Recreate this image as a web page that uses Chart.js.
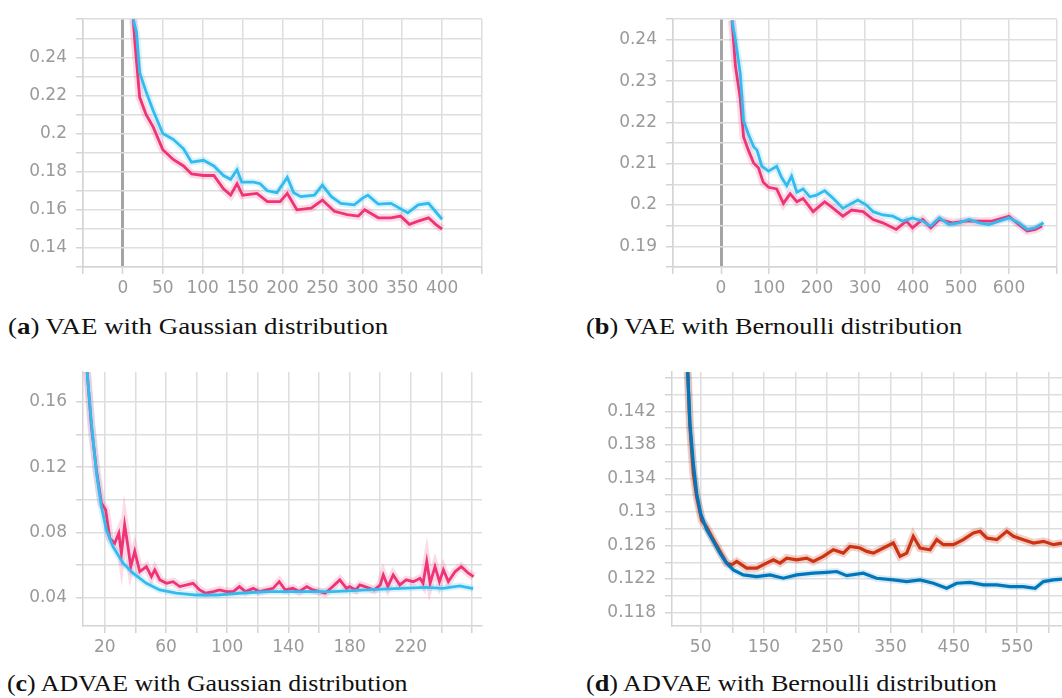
<!DOCTYPE html>
<html>
<head>
<meta charset="utf-8">
<script src="https://cdn.jsdelivr.net/npm/chart.js@4.4.1/dist/chart.umd.min.js"></script>
<style>
  html, body { margin: 0; padding: 0; background: #ffffff; }
  body { width: 1062px; height: 698px; position: relative; overflow: hidden; }
  canvas { position: absolute; }
  .cap {
    position: absolute;
    font-family: "Liberation Serif", "DejaVu Serif", serif;
    font-size: 24px;
    line-height: 24px;
    color: #111;
    white-space: nowrap;
    transform-origin: left top;
  }
  .cap b { font-weight: bold; }
</style>
</head>
<body>
<canvas id="chartA" width="500" height="300" style="left:0;top:0"></canvas>
<canvas id="chartB" width="482" height="300" style="left:580px;top:0"></canvas>
<canvas id="chartC" width="500" height="320" style="left:0;top:340px"></canvas>
<canvas id="chartD" width="482" height="320" style="left:580px;top:340px"></canvas>

<div class="cap" data-w="380" style="left:8px;top:314px">(<b>a</b>) VAE with Gaussian distribution</div>
<div class="cap" data-w="376" style="left:586px;top:314px">(<b>b</b>) VAE with Bernoulli distribution</div>
<div class="cap" data-w="401" style="left:7px;top:671px">(<b>c</b>) ADVAE with Gaussian distribution</div>
<div class="cap" data-w="411" style="left:586px;top:671px">(<b>d</b>) ADVAE with Bernoulli distribution</div>

<script>
// ---- (a) VAE with Gaussian distribution ----
const aBlueSteps = [13, 17, 21, 29, 38, 50, 63, 76, 86, 101, 114, 126, 135, 143, 149, 164, 172, 181, 193, 206, 214, 223, 240, 250, 261, 273, 290, 300, 307, 320, 336, 357, 370, 383, 392, 400];
const aBlueLoss = [0.26, 0.253, 0.232, 0.222, 0.212, 0.2, 0.197, 0.192, 0.185, 0.186, 0.183, 0.178, 0.176, 0.181, 0.1745, 0.1745, 0.1737, 0.17, 0.169, 0.177, 0.169, 0.1669, 0.1677, 0.173, 0.167, 0.1634, 0.1626, 0.166, 0.1677, 0.163, 0.1634, 0.1584, 0.1626, 0.1634, 0.159, 0.155];
const aRedSteps = [13, 15, 21, 29, 38, 50, 63, 76, 86, 101, 114, 126, 135, 143, 150, 168, 181, 197, 206, 218, 236, 250, 265, 281, 295, 303, 320, 336, 348, 359, 370, 383, 392, 400];
const aRedLoss = [0.26, 0.248, 0.219, 0.21, 0.2034, 0.1915, 0.1864, 0.183, 0.1788, 0.178, 0.178, 0.171, 0.1677, 0.1737, 0.1677, 0.1686, 0.1643, 0.1643, 0.1686, 0.16, 0.1609, 0.1651, 0.1592, 0.1575, 0.1567, 0.16, 0.1558, 0.1558, 0.1567, 0.1524, 0.1541, 0.1558, 0.1524, 0.1499];
const aXTicks = [-50, 0, 50, 100, 150, 200, 250, 300, 350, 400, 450];
const aXLabels = ["0", "50", "100", "150", "200", "250", "300", "350", "400"];
const aYTicks = [0.13, 0.14, 0.15, 0.16, 0.17, 0.18, 0.19, 0.2, 0.21, 0.22, 0.23, 0.24, 0.25, 0.26];
const aYLabels = ["0.14", "0.16", "0.18", "0.2", "0.22", "0.24"];

// ---- (b) VAE with Bernoulli distribution ----
const bBlueSteps = [23, 30, 40, 47, 57, 68, 75, 85, 99, 116, 126, 137, 147, 158, 171, 185, 199, 216, 234, 254, 272, 285, 303, 317, 337, 358, 379, 399, 420, 437, 455, 475, 496, 517, 538, 558, 579, 600, 620, 638, 655, 672];
const bBlueLoss = [0.2447, 0.24, 0.232, 0.2204, 0.2172, 0.2141, 0.2133, 0.2094, 0.2082, 0.2094, 0.2067, 0.2047, 0.207, 0.2031, 0.2039, 0.202, 0.2024, 0.2035, 0.2016, 0.1992, 0.2004, 0.2012, 0.2, 0.1984, 0.1976, 0.1973, 0.1961, 0.1969, 0.1961, 0.1949, 0.1969, 0.1953, 0.1957, 0.1965, 0.1957, 0.1953, 0.1961, 0.1969, 0.1957, 0.1941, 0.1945, 0.1957];
const bRedSteps = [23, 30, 40, 47, 57, 68, 78, 88, 99, 116, 130, 144, 158, 171, 192, 216, 234, 254, 272, 296, 317, 337, 365, 386, 399, 420, 437, 455, 482, 510, 538, 565, 600, 620, 638, 655, 669];
const bRedLoss = [0.2447, 0.2337, 0.2259, 0.2165, 0.2133, 0.2102, 0.209, 0.2055, 0.2043, 0.2039, 0.2004, 0.2027, 0.2008, 0.2016, 0.1984, 0.2008, 0.1992, 0.1973, 0.1988, 0.1984, 0.1965, 0.1957, 0.1941, 0.1961, 0.1945, 0.1965, 0.1945, 0.1965, 0.1957, 0.1961, 0.1961, 0.1961, 0.1973, 0.1953, 0.1937, 0.1941, 0.1949];
const bXTicks = [-100, 0, 100, 200, 300, 400, 500, 600, 700];
const bXLabels = ["0", "100", "200", "300", "400", "500", "600"];
const bYTicks = [0.185, 0.19, 0.195, 0.2, 0.205, 0.21, 0.215, 0.22, 0.225, 0.23, 0.235, 0.24, 0.245];
const bYLabels = ["0.19", "0.2", "0.21", "0.22", "0.23", "0.24"];

// ---- (c) ADVAE with Gaussian distribution ----
const cBlueSteps = [8.5, 11.3, 14.6, 17.8, 21.1, 25.4, 32, 38.5, 47.2, 56, 66.8, 80, 93, 108, 125.7, 147.5, 169, 191, 213, 230, 241, 252, 260.7];
const cBlueLoss = [0.1784, 0.147, 0.1164, 0.0959, 0.0816, 0.0713, 0.0611, 0.055, 0.0488, 0.0447, 0.0427, 0.0416, 0.0416, 0.0427, 0.0437, 0.0437, 0.0437, 0.0447, 0.0457, 0.0463, 0.0457, 0.0472, 0.0455];
const cRedSteps = [8.5, 11.3, 14.6, 17.8, 20.6, 23.3, 26.5, 29.2, 30.9, 33, 35.2, 37, 39.6, 42.9, 47.2, 50.5, 52.7, 56, 60.3, 64.7, 69, 77.7, 82, 86, 91, 95, 99.6, 104, 108, 112, 117, 121, 125.7, 130, 134, 138, 143, 147, 152, 156, 160.5, 164, 169, 173.6, 178, 180, 184, 186.7, 190, 193, 196, 200, 202, 205, 208.5, 212.8, 217, 221.6, 226, 228, 230.4, 232.6, 235.8, 238.7, 241.3, 244.5, 249, 253, 257.6, 261];
const cRedLoss = [0.1784, 0.145, 0.118, 0.098, 0.0939, 0.0765, 0.0734, 0.0795, 0.0672, 0.0847, 0.0713, 0.059, 0.0683, 0.056, 0.059, 0.0529, 0.057, 0.0509, 0.0488, 0.0498, 0.0468, 0.0488, 0.0447, 0.0427, 0.0437, 0.0447, 0.0437, 0.0437, 0.0468, 0.0437, 0.0457, 0.0437, 0.0447, 0.0457, 0.0498, 0.0447, 0.0457, 0.0437, 0.0468, 0.0447, 0.0437, 0.0427, 0.0468, 0.0509, 0.0457, 0.0468, 0.0447, 0.0478, 0.0468, 0.0457, 0.0447, 0.0478, 0.0539, 0.0468, 0.0539, 0.0478, 0.0509, 0.0498, 0.0519, 0.0488, 0.0621, 0.0488, 0.059, 0.0498, 0.057, 0.0498, 0.056, 0.059, 0.055, 0.0529];
const cXTicks = [20, 40, 60, 80, 100, 120, 140, 160, 180, 200, 220, 240, 260];
const cXLabels = ["20", "60", "100", "140", "180", "220"];
const cYTicks = [0.04, 0.06, 0.08, 0.1, 0.12, 0.14, 0.16];
const cYLabels = ["0.04", "0.08", "0.12", "0.16"];

// ---- (d) ADVAE with Bernoulli distribution ----
const dBlueSteps = [29.5, 33, 38.4, 43.7, 50, 59.5, 70, 80.5, 91, 101.6, 117.4, 138.5, 159.6, 180.7, 201.7, 228, 249, 265, 280.8, 307, 328, 354.5, 375.6, 396.7, 417.8, 438.8, 454.6, 475.7, 496.8, 517.9, 539, 560, 578.5, 591.7, 607.5, 621];
const dBlueLoss = [0.1467, 0.1406, 0.1358, 0.1322, 0.1298, 0.1279, 0.1265, 0.1251, 0.1239, 0.1231, 0.1225, 0.1223, 0.1225, 0.1221, 0.1225, 0.1227, 0.1228, 0.1229, 0.1224, 0.1227, 0.1221, 0.1219, 0.1217, 0.1219, 0.1215, 0.1209, 0.1215, 0.1216, 0.1213, 0.1213, 0.1211, 0.1211, 0.1209, 0.1217, 0.1219, 0.122];
const dRedSteps = [29.5, 33, 38.4, 43.7, 51.6, 59.5, 70, 80.5, 91, 99, 107, 122.7, 138.5, 154, 165, 175.4, 186, 201.7, 217.5, 228, 243.9, 259.7, 275.5, 286, 301.8, 312.4, 323, 338.7, 354.5, 365, 375.6, 386, 396.7, 412.5, 423, 433.6, 449.4, 465, 481, 491.5, 502, 518, 533.8, 544.3, 560, 576, 591.7, 607.5, 621];
const dRedLoss = [0.1467, 0.1402, 0.1346, 0.1318, 0.129, 0.1282, 0.1267, 0.1253, 0.1239, 0.1237, 0.1241, 0.1233, 0.1233, 0.1239, 0.1243, 0.1239, 0.1245, 0.1243, 0.1245, 0.1241, 0.1247, 0.1255, 0.1251, 0.1259, 0.1257, 0.1253, 0.1251, 0.1257, 0.1263, 0.1247, 0.1251, 0.1271, 0.1257, 0.1255, 0.1267, 0.1261, 0.1261, 0.1267, 0.1275, 0.1277, 0.1269, 0.1267, 0.1277, 0.1271, 0.1267, 0.1263, 0.1265, 0.1261, 0.1263];
const dXTicks = [50, 100, 150, 200, 250, 300, 350, 400, 450, 500, 550, 600];
const dXLabels = ["50", "150", "250", "350", "450", "550"];
const dYTicks = [0.118, 0.12, 0.122, 0.124, 0.126, 0.128, 0.13, 0.132, 0.134, 0.136, 0.138, 0.14, 0.142, 0.144, 0.146];
const dYLabels = ["0.118", "0.122", "0.126", "0.13", "0.134", "0.138", "0.142"];

const GRID = "#dedede";
const TICK_TEXT = "#9a9a9a";
const tickFont = { family: "DejaVu Sans", size: 17 };

function points(steps, values) {
  return steps.map((s, i) => ({ x: s, y: values[i] }));
}

// returns the label string for a tick value, or "" if this tick is unlabelled
function labelFor(value, labels) {
  const hit = labels.find((l) => Math.abs(parseFloat(l) - value) < 1e-7);
  return hit || "";
}

function lineSet(data, color, width, order) {
  return {
    data: data,
    borderColor: color,
    borderWidth: width,
    pointRadius: 0,
    tension: 0,
    fill: false,
    order: order,
  };
}

function makeChart(id, p) {
  const ctx = document.getElementById(id).getContext("2d");
  const blue = points(p.blueSteps, p.blueLoss);
  const red = points(p.redSteps, p.redLoss);
  return new Chart(ctx, {
    type: "line",
    data: {
      datasets: [
        lineSet(blue, p.blue, p.lineWidth, 0),
        lineSet(red, p.red, p.lineWidth, 1),
        lineSet(blue, p.blueHalo, 7, 2),
        lineSet(red, p.redHalo, 8, 3),
      ],
    },
    options: {
      responsive: false,
      animation: false,
      events: [],
      layout: { padding: p.padding },
      plugins: { legend: { display: false }, tooltip: { enabled: false } },
      scales: {
        x: {
          type: "linear",
          min: p.xMin,
          max: p.xMax,
          afterBuildTicks: (axis) => {
            axis.ticks = p.xTicks.map((v) => ({ value: v }));
          },
          afterFit: (axis) => {
            axis.height = p.xAxisHeight;
          },
          grid: {
            color: (c) => (p.zeroLine && c.tick && c.tick.value === 0 ? "#a4a4a4" : GRID),
            lineWidth: (c) => (p.zeroLine && c.tick && c.tick.value === 0 ? 3 : 1.5),
            tickColor: "#d4d4d4",
            tickWidth: 1.5,
            tickLength: 7,
          },
          border: { color: "#d4d4d4", width: 1.5 },
          ticks: {
            autoSkip: false,
            maxRotation: 0,
            padding: 4,
            color: TICK_TEXT,
            font: tickFont,
            callback: (v) => labelFor(v, p.xLabels),
          },
        },
        y: {
          type: "linear",
          min: p.yMin,
          max: p.yMax,
          afterBuildTicks: (axis) => {
            axis.ticks = p.yTicks.map((v) => ({ value: v }));
          },
          afterFit: (axis) => {
            axis.width = p.yAxisWidth;
          },
          grid: {
            color: GRID,
            lineWidth: 1.5,
            tickColor: "#d4d4d4",
            tickWidth: 1.5,
            tickLength: 7,
          },
          border: { color: "#d4d4d4", width: 1.5 },
          ticks: {
            autoSkip: false,
            padding: 9,
            color: TICK_TEXT,
            font: tickFont,
            callback: (v) => labelFor(v, p.yLabels),
          },
        },
      },
    },
  });
}

function init() {
  const pink = "#ee3377", cyan = "#33bbee";
  const pinkHalo = "rgba(238, 51, 119, 0.18)", cyanHalo = "rgba(51, 187, 238, 0.18)";

  makeChart("chartA", {
    blueSteps: aBlueSteps, blueLoss: aBlueLoss, redSteps: aRedSteps, redLoss: aRedLoss,
    blue: cyan, red: pink, blueHalo: cyanHalo, redHalo: pinkHalo, lineWidth: 2.8,
    xMin: -50, xMax: 450, xTicks: aXTicks, xLabels: aXLabels,
    yMin: 0.13, yMax: 0.26, yTicks: aYTicks, yLabels: aYLabels,
    zeroLine: true, yAxisWidth: 83, xAxisHeight: 33,
    padding: { left: 0, top: 13, right: 18, bottom: 0 },
  });

  makeChart("chartB", {
    blueSteps: bBlueSteps, blueLoss: bBlueLoss, redSteps: bRedSteps, redLoss: bRedLoss,
    blue: cyan, red: pink, blueHalo: cyanHalo, redHalo: pinkHalo, lineWidth: 2.8,
    xMin: -100, xMax: 700, xTicks: bXTicks, xLabels: bXLabels,
    yMin: 0.185, yMax: 0.245, yTicks: bYTicks, yLabels: bYLabels,
    zeroLine: true, yAxisWidth: 93, xAxisHeight: 33,
    padding: { left: 0, top: 13, right: 5, bottom: 0 },
  });

  makeChart("chartC", {
    blueSteps: cBlueSteps, blueLoss: cBlueLoss, redSteps: cRedSteps, redLoss: cRedLoss,
    blue: cyan, red: pink, blueHalo: cyanHalo, redHalo: pinkHalo, lineWidth: 2.8,
    xMin: 5.8, xMax: 266.5, xTicks: cXTicks, xLabels: cXLabels,
    yMin: 0.0226, yMax: 0.1784, yTicks: cYTicks, yLabels: cYLabels,
    zeroLine: false, yAxisWidth: 83, xAxisHeight: 34,
    padding: { left: 0, top: 32, right: 18, bottom: 0 },
  });

  makeChart("chartD", {
    blueSteps: dBlueSteps, blueLoss: dBlueLoss, redSteps: dRedSteps, redLoss: dRedLoss,
    blue: "#0077bb", red: "#cc3311", lineWidth: 3.2,
    blueHalo: "rgba(0, 119, 187, 0.15)", redHalo: "rgba(204, 51, 17, 0.22)",
    xMin: 4.7, xMax: 621, xTicks: dXTicks, xLabels: dXLabels,
    yMin: 0.1164, yMax: 0.1467, yTicks: dYTicks, yLabels: dYLabels,
    zeroLine: false, yAxisWidth: 92, xAxisHeight: 34,
    padding: { left: 0, top: 32, right: 0, bottom: 0 },
  });

  // stretch captions to the width they take in the figure
  document.querySelectorAll(".cap").forEach((el) => {
    const target = parseFloat(el.dataset.w);
    el.style.transform = "scaleX(" + target / el.offsetWidth + ")";
  });
}

document.addEventListener("DOMContentLoaded", init);
</script>
</body>
</html>
